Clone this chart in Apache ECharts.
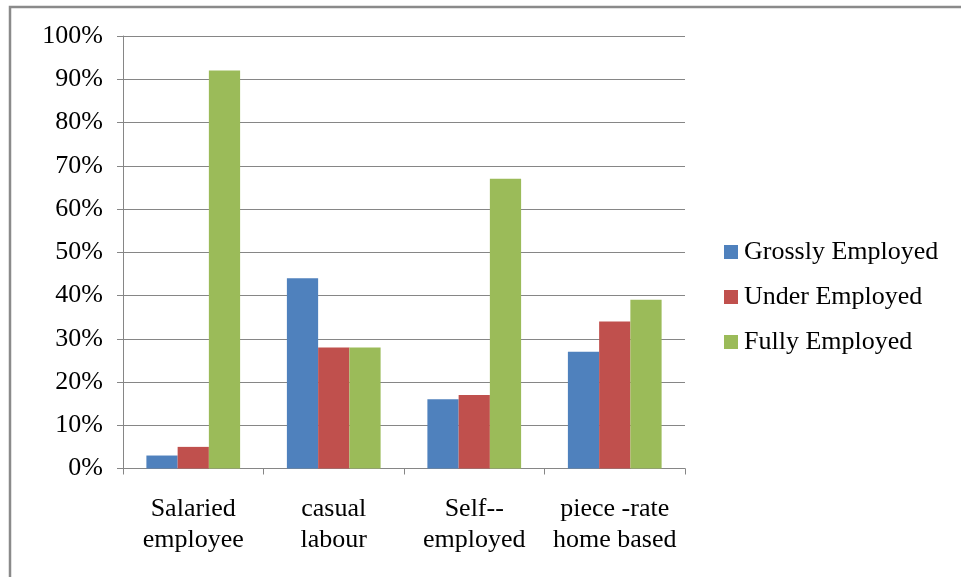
<!DOCTYPE html>
<html>
<head>
<meta charset="utf-8">
<script src="https://cdn.jsdelivr.net/npm/echarts@6/dist/echarts.min.js"></script>
<style>
  html, body { margin: 0; padding: 0; background: #ffffff; }
  #chart { width: 961px; height: 577px; }
</style>
</head>
<body>
<div id="chart"></div>
<script>
// Employment type categories (two-line labels)
var categories = ['Salaried\nemployee', 'casual\nlabour', 'Self--\nemployed', 'piece -rate\nhome based'];

// Share of workers in each employment status, percent
var grosslyEmployed = [3, 44, 16, 27];
var underEmployed   = [5, 28, 17, 34];
var fullyEmployed   = [92, 28, 67, 39];

var seriesNames = ['Grossly Employed', 'Under Employed', 'Fully Employed'];
var seriesColors = ['#4F81BD', '#C0504D', '#9BBB59'];

var serifFont = '"Liberation Serif", "DejaVu Serif", serif';

var chart = echarts.init(document.getElementById('chart'), null, { renderer: 'canvas' });

function barSeries(name, data, color) {
  return {
    name: name,
    type: 'bar',
    data: data,
    barGap: '0%',
    barCategoryGap: '33.3%',
    itemStyle: { color: color },
    emphasis: { disabled: true }
  };
}

chart.setOption({
  animation: false,
  backgroundColor: '#ffffff',
  graphic: [
    {
      // outer chart frame
      type: 'rect',
      shape: { x: 10, y: 7, width: 1000, height: 1000 },
      style: { fill: 'none', stroke: '#8a8a8a', lineWidth: 2.5 },
      silent: true
    }
  ],
  legend: {
    orient: 'vertical',
    left: 719,
    top: 234,
    itemWidth: 14,
    itemHeight: 14,
    itemGap: 19,
    icon: 'rect',
    textStyle: { fontFamily: serifFont, fontSize: 26, color: '#000', padding: [0, 0, 0, 1] },
    data: seriesNames
  },
  grid: {
    left: 123,
    right: 276,
    top: 36,
    bottom: 108.5,
    containLabel: false
  },
  xAxis: {
    type: 'category',
    data: categories,
    axisLine: { show: true, lineStyle: { color: '#868686', width: 1 } },
    axisTick: { show: true, length: 6, lineStyle: { color: '#868686' } },
    axisLabel: {
      fontFamily: serifFont,
      fontSize: 26,
      lineHeight: 31,
      color: '#000',
      margin: 25,
      interval: 0
    },
    splitLine: { show: false }
  },
  yAxis: {
    type: 'value',
    min: 0,
    max: 100,
    interval: 10,
    axisLine: { show: true, lineStyle: { color: '#868686', width: 1 } },
    axisTick: { show: true, length: 6, lineStyle: { color: '#868686' } },
    axisLabel: {
      formatter: '{value}%',
      fontFamily: serifFont,
      fontSize: 26,
      color: '#000',
      margin: 20
    },
    splitLine: { show: true, lineStyle: { color: '#868686', width: 1 } }
  },
  series: [
    barSeries(seriesNames[0], grosslyEmployed, seriesColors[0]),
    barSeries(seriesNames[1], underEmployed, seriesColors[1]),
    barSeries(seriesNames[2], fullyEmployed, seriesColors[2])
  ]
});
</script>
</body>
</html>
